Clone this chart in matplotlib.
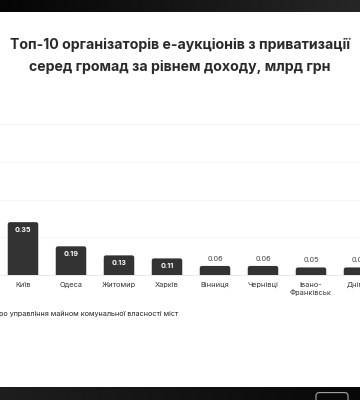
import numpy as np
import matplotlib
matplotlib.use("Agg")
import matplotlib.pyplot as plt
from matplotlib.patches import FancyBboxPatch

# ---- data ----
categories = ["Київ", "Одеса", "Житомир", "Харків", "Вінниця", "Чернівці",
              "Івано-\nФранківськ", "Дніпро"]
values = [0.35, 0.19, 0.13, 0.11, 0.06, 0.06, 0.05, 0.05]
title_lines = ["Топ-10 організаторів е-аукціонів з приватизації",
               "серед громад за рівнем доходу, млрд грн"]
source_text = "ро управління майном комунальної власності міст"
grid_ticks = [0.25, 0.5, 0.75, 1.0]

W, H = 360, 400
FONT = "Inter"
fig = plt.figure(figsize=(W / 100, H / 100), dpi=100)
fig.patch.set_facecolor("white")

# ---- dark bands (screenshot frame) ----
def band(y0, h, c_left, c_right):
    a = fig.add_axes([0, y0 / H, 1, h / H])
    grad = np.linspace(0, 1, 256)[None, :]
    cmap = matplotlib.colors.LinearSegmentedColormap.from_list("g", [c_left, c_right])
    a.imshow(grad, aspect="auto", cmap=cmap, extent=[0, 1, 0, 1])
    a.set_xlim(0, 1)
    a.set_ylim(0, 1)
    a.set_axis_off()
    return a

band(H - 12, 12, "#050505", "#262626")
bh_px = 13.3
bot = band(0, bh_px, "#1e1e1e", "#080808")
bot.add_patch(FancyBboxPatch((316 / W, -0.3), 32 / W, 0.85,
                             boxstyle="round,pad=0,rounding_size=0.008",
                             fill=False, edgecolor="#d8d8d8", lw=0.6,
                             mutation_aspect=W / bh_px))

# ---- chart axes ----
px_step = 48.0
x0_px = 23.0
xl = (0 - x0_px) / px_step
xr = (W - x0_px) / px_step
ax = fig.add_axes([0, 125 / H, 1, 151 / H])
ax.set_xlim(xl, xr)
ax.set_ylim(0, 1.0)
for s in ax.spines.values():
    s.set_visible(False)
ax.set_yticks([])
ax.patch.set_alpha(0)

for g in grid_ticks:
    ax.axhline(g, color="#f5f5f5", lw=0.6, zorder=0, clip_on=False)
ax.axhline(0, color="#e4e4e4", lw=0.6, zorder=0, clip_on=False)

x = np.arange(len(categories))
bw = 30.5 / px_step
bars = ax.bar(x, values, width=bw, color="none", edgecolor="none")
r = 2.2 / px_step
for b in bars:
    bx, by = b.get_x(), b.get_y()
    bwid, bhh = b.get_width(), b.get_height()
    p = FancyBboxPatch((bx, by - 0.03), bwid, bhh + 0.03,
                       boxstyle=f"round,pad=0,rounding_size={r}",
                       mutation_aspect=px_step / 151.0,
                       facecolor="#333333", edgecolor="none", zorder=2)
    ax.add_patch(p)

for xi, v in zip(x, values):
    if v >= 0.1:
        ax.text(xi, v - 7.5 / 151, f"{v:.2f}", ha="center", va="center",
                color="white", fontsize=5.2, fontweight="bold", family=FONT, zorder=3)
    else:
        ax.text(xi, v + 7.2 / 151, f"{v:.2f}", ha="center", va="center",
                color="#444444", fontsize=5.2, family=FONT, zorder=3)

ax.set_xticks(x)
ax.set_xticklabels(categories, fontsize=5.3, color="#333333", family=FONT,
                   linespacing=1.25)
ax.tick_params(axis="x", length=0, pad=5)

# ---- title ----
fig.text(0.5, 1 - 45 / H, title_lines[0], ha="center", va="center",
         fontsize=10.2, fontweight="bold", color="#2a2a2a", family=FONT)
fig.text(0.5, 1 - 67.5 / H, title_lines[1], ha="center", va="center",
         fontsize=10.2, fontweight="bold", color="#2a2a2a", family=FONT)

# ---- source ----
fig.text(-1 / W, 1 - 314 / H, source_text, ha="left", va="center",
         fontsize=5.2, color="#222222", family=FONT)

fig.savefig("out.png", dpi=100, facecolor="white")
